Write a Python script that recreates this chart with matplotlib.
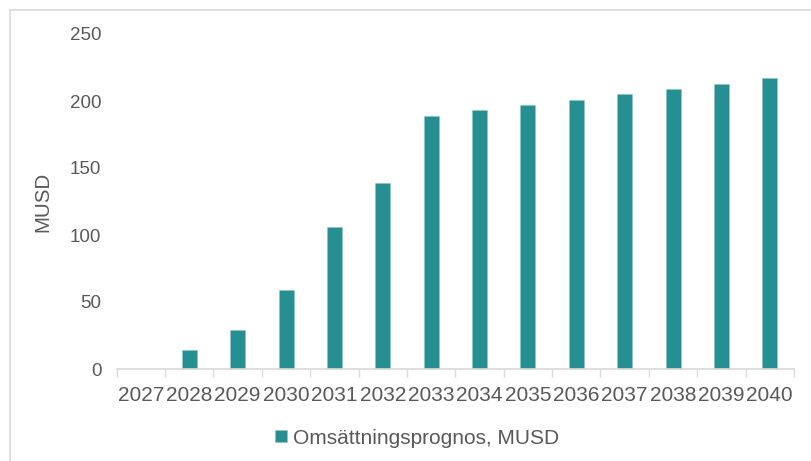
import matplotlib
matplotlib.use("Agg")
import matplotlib.pyplot as plt
from matplotlib.patches import Rectangle
import numpy as np

years = ["2027", "2028", "2029", "2030", "2031", "2032", "2033", "2034",
         "2035", "2036", "2037", "2038", "2039", "2040"]
revenue = [0, 14, 29, 59, 106, 139, 189, 193, 197, 201, 205, 209, 213, 217]
series_name = "Omsättningsprognos, MUSD"
y_label = "MUSD"
y_ticks = [0, 50, 100, 150, 200, 250]

plt.rcParams['font.family'] = ['Liberation Sans', 'DejaVu Sans']
text_color = "#595959"
bar_color = "#268f91"
axis_color = "#d9d9d9"

fig = plt.figure(figsize=(8.12, 4.61), dpi=100)
fig.patch.set_facecolor("white")

# outer frame (partly cut off at right/bottom)
fig.add_artist(Rectangle((10 / 812, -0.1), 1.2, (1 - 10 / 461) + 0.1,
                         transform=fig.transFigure, fill=False,
                         edgecolor=axis_color, linewidth=1.2))

ax = fig.add_axes([116.7 / 812, 1 - 369 / 461, (794 - 116.7) / 812, (369 - 34) / 461])
x = np.arange(len(years))
ax.bar(x, revenue, width=0.31, color=bar_color, edgecolor="#8cc7c7",
       linewidth=0.4, label=series_name, zorder=2)

ax.set_xlim(-0.5, len(years) - 0.5)
ax.set_ylim(0, 250)
ax.set_yticks(y_ticks)
ax.set_yticklabels([str(v) for v in y_ticks])
ax.set_xticks(x)
ax.set_xticklabels(years)
ax.set_xticks(np.arange(-0.5, len(years), 1.0), minor=True)

ax.tick_params(axis="x", which="major", length=0, pad=12, labelsize=15, labelcolor=text_color)
ax.tick_params(axis="x", which="minor", length=6, width=1, color=axis_color, direction="out")
ax.tick_params(axis="y", which="both", length=0, pad=11, labelsize=13.5, labelcolor=text_color)

for s in ["top", "right", "left"]:
    ax.spines[s].set_visible(False)
ax.spines["bottom"].set_color(axis_color)
ax.spines["bottom"].set_linewidth(1.2)

ax.set_ylabel(y_label, fontsize=14.8, color=text_color)
ax.yaxis.set_label_coords(-(116.7 - 52) / (794 - 116.7), 0.5)

leg = fig.legend(loc="center", bbox_to_anchor=(417 / 812, 1 - 438 / 461),
                 frameon=False, fontsize=15, handlelength=0.55, handleheight=0.55,
                 handletextpad=0.3, borderpad=0)
for t in leg.get_texts():
    t.set_color(text_color)

fig.savefig("out.png", dpi=100, facecolor="white")
